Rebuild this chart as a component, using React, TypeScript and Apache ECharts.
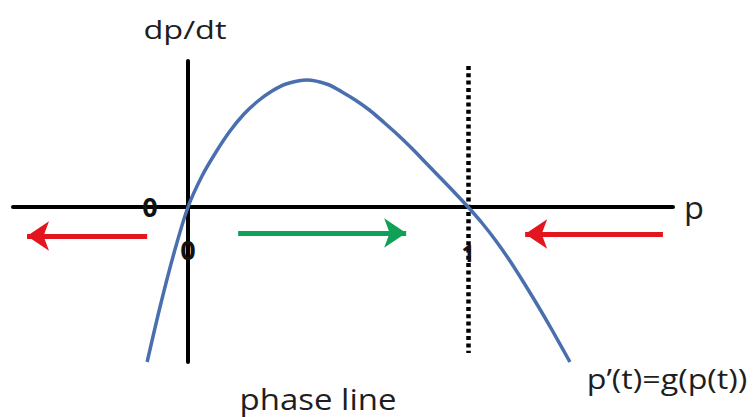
import React, { useEffect, useRef } from "react";
import * as echarts from "echarts";

// Growth-rate curve g(p): population p against dp/dt
const pValues = [
  -0.146, -0.1, -0.05, 0, 0.05, 0.1, 0.15, 0.2, 0.25, 0.3, 0.35, 0.425, 0.5,
  0.55, 0.6, 0.65, 0.7, 0.75, 0.8, 0.85, 0.9, 0.95, 1, 1.05, 1.1, 1.15, 1.2, 1.25,
  1.3, 1.364,
];
const rateValues = [
  -1.55, -1.0, -0.46, 0, 0.31, 0.55, 0.76, 0.93, 1.06, 1.16, 1.23, 1.27, 1.225,
  1.15, 1.065, 0.965, 0.845, 0.72, 0.585, 0.44, 0.295, 0.15, 0, -0.16, -0.34, -0.54, -0.76, -0.99,
  -1.23, -1.55,
];

// Equilibrium points and their labels
const equilibria = [0, 1];
const equilibriumLabels = ["0", "1"];

// Flow arrows along the phase line (tail p, head p, height below the axis)
const flowFrom = [-0.146, 0.179, 1.696];
const flowTo = [-0.575, 0.779, 1.204];
const flowLevel = [-0.29, -0.26, -0.27];

// Dotted guide through the carrying capacity p = 1
const guideP = 1;
const guideTop = 1.41;
const guideBottom = -1.46;

const RED = "#e3151e";
const GREEN = "#10a157";
const INK = "#1e1e1e";
const FONT = "'Open Sans', 'Noto Sans', sans-serif";

export default function App() {
  const ref = useRef<HTMLDivElement>(null);

  useEffect(() => {
    if (!ref.current) return;
    const chart = echarts.init(ref.current, null, { renderer: "svg" });

    const curve = pValues.map((p, i) => [p, rateValues[i]]);

    const arrowLines = flowFrom.map((from, i) => {
      const color = flowTo[i] > from ? GREEN : RED;
      return [
        { coord: [from, flowLevel[i]], symbol: "none", lineStyle: { color, width: 5, type: "solid" } },
        { coord: [flowTo[i], flowLevel[i]], symbol: "arrow", symbolSize: 22 },
      ];
    });

    const labelPoints = [
      ...equilibria.map((p, i) => ({
        coord: [p, 0],
        value: equilibriumLabels[i],
        label: { offset: [0, i === 0 ? 42 : 46], fontSize: i === 0 ? 27 : 23 },
      })),
      { coord: [-0.136, 0], value: "0", label: { offset: [0, -1], fontSize: 27 } },
    ];

    chart.setOption({
      animation: false,
      backgroundColor: "#ffffff",
      grid: { left: 13, right: 83, top: 61, bottom: 55, containLabel: false },
      xAxis: {
        type: "value",
        min: -0.625,
        max: 1.732,
        axisLine: { onZero: true, lineStyle: { color: "#000", width: 4 } },
        axisTick: { show: false },
        axisLabel: { show: false },
        splitLine: { show: false },
      },
      yAxis: {
        type: "value",
        min: -1.55,
        max: 1.46,
        axisLine: { show: true, onZero: true, lineStyle: { color: "#000", width: 4 } },
        axisTick: { show: false },
        axisLabel: { show: false },
        splitLine: { show: false },
      },
      series: [
        {
          type: "line",
          name: "g(p)",
          data: curve,
          smooth: 0.3,
          showSymbol: false,
          z: 5,
          lineStyle: { color: "#4a6fae", width: 3.5 },
          markLine: {
            silent: true,
            symbol: ["none", "none"],
            label: { show: false },
            lineStyle: { color: "#000", width: 4.5, type: [4, 3.3] },
            data: [[{ coord: [guideP, guideTop] }, { coord: [guideP, guideBottom] }]],
          },
          markPoint: {
            silent: true,
            symbol: "circle",
            symbolSize: 1,
            itemStyle: { color: "rgba(0,0,0,0)" },
            label: {
              show: true,
              position: "inside",
              formatter: (d: any) => d.value,
              color: "#111",
              fontWeight: "bold",
              fontFamily: FONT,
            },
            data: labelPoints,
          },
        },
        {
          type: "line",
          name: "flow",
          data: [],
          markLine: {
            silent: true,
            symbol: ["none", "arrow"],
            symbolSize: 22,
            label: { show: false },
            data: arrowLines,
          },
        },
      ],
      graphic: [
        {
          type: "text",
          x: 185,
          y: 29,
          scaleX: 1.3,
          style: { text: "dp/dt", fontSize: 25, fontFamily: FONT, fill: INK, textAlign: "center", textVerticalAlign: "middle" },
        },
        {
          type: "text",
          x: 694,
          y: 207,
          scaleX: 1.05,
          style: { text: "p", fontSize: 31, fontFamily: FONT, fill: INK, textAlign: "center", textVerticalAlign: "middle" },
        },
        {
          type: "text",
          x: 667,
          y: 378,
          scaleX: 1.15,
          style: { text: "p\u2019(t)=g(p(t))", fontSize: 28, fontFamily: FONT, fill: INK, textAlign: "center", textVerticalAlign: "middle" },
        },
        {
          type: "text",
          x: 318,
          y: 398,
          scaleX: 1.1,
          style: { text: "phase line", fontSize: 30, fontFamily: FONT, fill: INK, textAlign: "center", textVerticalAlign: "middle" },
        },
      ],
    });

    return () => chart.dispose();
  }, []);

  return (
    <div
      ref={ref}
      style={{ position: "fixed", left: 0, top: 0, width: 756, height: 417, background: "#fff" }}
    />
  );
}
